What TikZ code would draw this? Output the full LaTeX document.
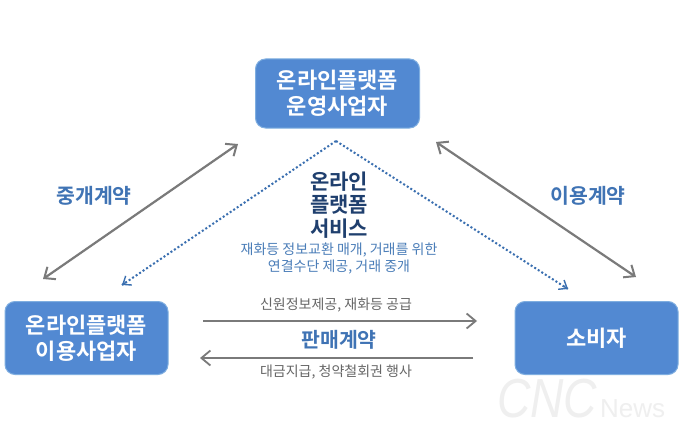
\documentclass[tikz,border=0pt]{standalone}
\usepackage{fontspec}
\setmainfont{Noto Sans CJK KR}[BoldFont={* Bold}]
\newfontfamily\wm{Liberation Sans}[FakeStretch=0.84]
\newfontfamily\wmn{Liberation Sans}
\usetikzlibrary{arrows.meta,calc}
\definecolor{boxblue}{HTML}{5289D2}
\definecolor{boxedge}{HTML}{7FAEE0}
\definecolor{navy}{HTML}{1F3F6E}
\definecolor{midblue}{HTML}{3F73B4}
\definecolor{lblblue}{HTML}{4A7DB8}
\definecolor{dotblue}{HTML}{3A6FB0}
\definecolor{arrgray}{HTML}{7A7A7A}
\definecolor{txtgray}{HTML}{666666}
\definecolor{wmgray}{HTML}{EFEFEF}
\tikzset{
  x=1pt,y=-1pt,
  bluebox/.style={draw=boxedge,line width=1pt,fill=boxblue,rounded corners=10pt,text=white,font=\bfseries\fontsize{22}{26}\selectfont,align=center,inner sep=0pt,anchor=center},
  grayarrow/.style={draw=arrgray,line width=2.2pt,{Straight Barb[length=9pt,width=15pt,line width=2pt]}-{Straight Barb[length=9pt,width=15pt,line width=2pt]}},
  hline/.style={draw=arrgray,line width=1.8pt},
  hhead/.style={-{Straight Barb[length=9pt,width=15pt,line width=1.8pt]}},
  dotline/.style={draw=dotblue,line width=2pt,dash pattern=on 2pt off 2.2pt},
  dothead/.style={-{Straight Barb[length=7pt,width=11pt,line width=1.4pt]}},
  contract/.style={text=midblue,font=\bfseries\fontsize{20.5}{24}\selectfont,inner sep=0pt},
  small/.style={text=txtgray,font=\fontsize{14}{17}\selectfont,inner sep=0pt},
  svc/.style={text=navy,font=\bfseries\fontsize{21}{23.3}\selectfont,align=center,inner sep=0pt},
  svcsmall/.style={text=lblblue,font=\fontsize{14}{17}\selectfont,align=center,inner sep=0pt},
}
\begin{document}
\begin{tikzpicture}
\useasboundingbox (0,0) rectangle (680,436);
\fill[white] (0,0) rectangle (680,436);
\node[bluebox,minimum width=164pt,minimum height=69pt] (top) at (337.5,93.5) {온라인플랫폼\\운영사업자};
\node[bluebox,minimum width=163pt,minimum height=73pt] (left) at (86.5,338) {온라인플랫폼\\이용사업자};
\node[bluebox,minimum width=163pt,minimum height=73pt] (right) at (596.5,338) {소비자};
\coordinate (la) at (43,279); \coordinate (lb) at (238,144);
\coordinate (ra) at (636,277); \coordinate (rb) at (436,142);
\draw[grayarrow] (la) -- (lb);
\draw[grayarrow] (ra) -- (rb);
\coordinate (apex) at (336,141);
\coordinate (dl) at (122,285); \coordinate (dr) at (568,289);
\draw[dotline] (apex) -- (dl);
\draw[dotline] (apex) -- (dr);
\draw[draw=dotblue,line width=1.4pt,dothead] ($(apex)!0.98!(dl)$) -- (dl);
\draw[draw=dotblue,line width=1.4pt,dothead] ($(apex)!0.98!(dr)$) -- (dr);
\coordinate (h1a) at (203,321); \coordinate (h1b) at (477,321);
\coordinate (h2a) at (473,358); \coordinate (h2b) at (200,358);
\draw[hline,hhead] (h1a) -- (h1b);
\draw[hline,hhead] (h2a) -- (h2b);
\node[contract] (c1) at (94,196) {중개계약};
\node[contract] (c2) at (588,196) {이용계약};
\node[contract] (c3) at (339,340) {판매계약};
\node[small] (s1) at (336,305) {신원정보제공, 재화등 공급};
\node[small] (s2) at (336,372) {대금지급, 청약철회권 행사};
\node[svc] (svc) at (339,205) {온라인\\플랫폼\\서비스};
\node[svcsmall] (svc2) at (339,258.5) {재화등 정보교환 매개, 거래를 위한\\연결수단 제공, 거래 중개};
\node[text=wmgray,inner sep=0pt,font=\wm\itshape\fontsize{55}{55}\selectfont,anchor=base west] (w1) at (497,417) {CNC};
\node[text=wmgray,inner sep=0pt,font=\wmn\fontsize{26}{26}\selectfont,anchor=base west] (w2) at (600,417) {News};
\end{tikzpicture}
\end{document}
